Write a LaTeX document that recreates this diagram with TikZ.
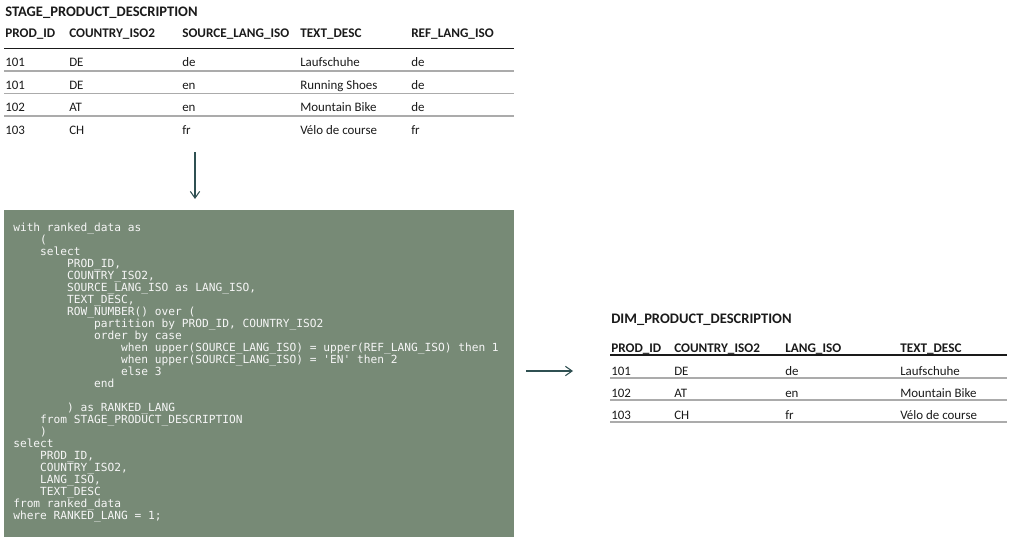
\documentclass[tikz,border=0pt]{standalone}
\usepackage{fontspec}
\setmainfont{Carlito}
\newfontfamily\sqlfont{DejaVu Sans Mono}
\usetikzlibrary{arrows.meta,fit}

\definecolor{sqlbg}{HTML}{778A76}
\definecolor{sqlink}{HTML}{F6F6F6}
\definecolor{flowcol}{HTML}{2F5052}
\definecolor{rulegray}{HTML}{ABABAB}
\definecolor{ink}{HTML}{1A1A1A}

\newcommand{\ind}{\phantom{xxxx}}

\tikzset{
  tabtitle/.style={anchor=base west, inner sep=0pt, text=ink,
    font=\fontsize{10.9}{12}\selectfont\bfseries},
  colhead/.style={anchor=base west, inner sep=0pt, text=ink,
    font=\fontsize{9.9}{12}\selectfont\bfseries},
  cell/.style={anchor=base west, inner sep=0pt, text=ink,
    font=\fontsize{9.7}{12}\selectfont},
  headrule/.style={draw=ink, line width=1.3pt},
  rowrule/.style={draw=rulegray, line width=1pt},
  flow/.style={draw=flowcol, line width=0.8pt},
  sqlbox/.style={fill=sqlbg, draw=none, inner sep=0pt},
  sqlcode/.style={anchor=north west, inner sep=0pt, align=left, text=sqlink,
    font=\sqlfont\fontsize{8.4}{9}\selectfont},
}

\begin{document}
\begin{tikzpicture}[x=0.75pt, y=-0.75pt, >={Straight Barb[length=5pt,width=7pt]}]
  \useasboundingbox (0,0) rectangle (1024,542);

  % source table
  \node[tabtitle] (stagetitle) at (5,17) {STAGE\_PRODUCT\_DESCRIPTION};
  \node[colhead] (sh1) at (5,37.5) {PROD\_ID};
  \node[colhead] (sh2) at (69,37.5) {COUNTRY\_ISO2};
  \node[colhead] (sh3) at (182,37.5) {SOURCE\_LANG\_ISO};
  \node[colhead] (sh4) at (300,37.5) {TEXT\_DESC};
  \node[colhead] (sh5) at (411,37.5) {REF\_LANG\_ISO};
  \draw[headrule] (4,48.5) -- (514,48.5);
  \foreach \y/\a/\b/\c/\d/\e [count=\i] in {
      67/101/DE/de/Laufschuhe/de,
      89.5/101/DE/en/Running Shoes/de,
      112/102/AT/en/Mountain Bike/de,
      134/103/CH/fr/Vélo de course/fr} {
    \node[cell] (s\i a) at (5,\y) {\a};
    \node[cell] (s\i b) at (69,\y) {\b};
    \node[cell] (s\i c) at (182,\y) {\c};
    \node[cell] (s\i d) at (300,\y) {\d};
    \node[cell] (s\i e) at (411,\y) {\e};
  }
  \foreach \y in {71,93.5,116}
    \draw[rowrule] (4,\y) -- (514,\y);

  % query
  \node[sqlbox, fit={(4,210) (514,537)}] (sql) {};
  \node[sqlcode] (sqltext) at (13,222.5) {%
with ranked\_data as\\
\ind(\\
\ind select\\
\ind\ind PROD\_ID,\\
\ind\ind COUNTRY\_ISO2,\\
\ind\ind SOURCE\_LANG\_ISO as LANG\_ISO,\\
\ind\ind TEXT\_DESC,\\
\ind\ind ROW\_NUMBER() over (\\
\ind\ind\ind partition by PROD\_ID, COUNTRY\_ISO2\\
\ind\ind\ind order by case\\
\ind\ind\ind\ind when upper(SOURCE\_LANG\_ISO) = upper(REF\_LANG\_ISO) then 1\\
\ind\ind\ind\ind when upper(SOURCE\_LANG\_ISO) = \textquotesingle EN\textquotesingle{} then 2\\
\ind\ind\ind\ind else 3\\
\ind\ind\ind end\\
\mbox{}\\
\ind\ind) as RANKED\_LANG\\
\ind from STAGE\_PRODUCT\_DESCRIPTION\\
\ind)\\
select\\
\ind PROD\_ID,\\
\ind COUNTRY\_ISO2,\\
\ind LANG\_ISO,\\
\ind TEXT\_DESC\\
from ranked\_data\\
where RANKED\_LANG = 1;};

  % target table
  \node[tabtitle] (dimtitle) at (611,323) {DIM\_PRODUCT\_DESCRIPTION};
  \node[colhead] (dh1) at (611,352) {PROD\_ID};
  \node[colhead] (dh2) at (674,352) {COUNTRY\_ISO2};
  \node[colhead] (dh3) at (785,352) {LANG\_ISO};
  \node[colhead] (dh4) at (900,352) {TEXT\_DESC};
  \draw[headrule] (610,355) -- (1007,355);
  \foreach \y/\a/\b/\c/\d [count=\i] in {
      375/101/DE/de/Laufschuhe,
      397/102/AT/en/Mountain Bike,
      419/103/CH/fr/Vélo de course} {
    \node[cell] (d\i a) at (611,\y) {\a};
    \node[cell] (d\i b) at (674,\y) {\b};
    \node[cell] (d\i c) at (785,\y) {\c};
    \node[cell] (d\i d) at (900,\y) {\d};
  }
  \foreach \y in {378,400,422}
    \draw[rowrule] (610,\y) -- (1007,\y);

  % flow arrows
  \coordinate (downfrom) at (195,152);
  \coordinate (downto) at (195,199);
  \coordinate (rightfrom) at (526,371);
  \coordinate (rightto) at (573,371);
  \draw [->, flow] (downfrom) -- (downto);
  \draw [->, flow] (rightfrom) -- (rightto);
\end{tikzpicture}
\end{document}
